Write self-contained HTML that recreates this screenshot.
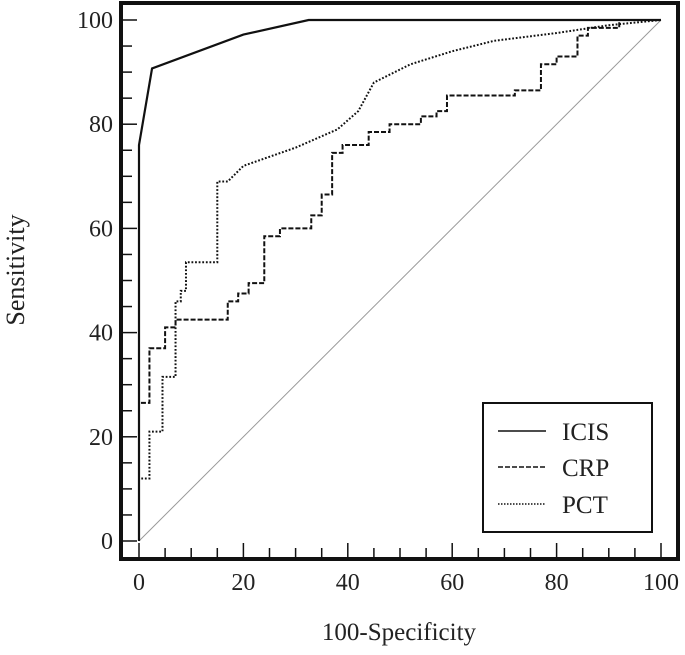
<!DOCTYPE html>
<html><head><meta charset="utf-8"><style>
body{margin:0;background:#fff;}
svg text{font-family:"Liberation Serif",serif;fill:#222;}
</style></head><body>
<svg id="chart" width="685" height="650" viewBox="0 0 685 650" xmlns="http://www.w3.org/2000/svg">
<rect x="121" y="3" width="557" height="556" fill="none" stroke="#111" stroke-width="4"/>
<g id="ticks"></g>
<g id="marks"></g>
<text x="399" y="640" font-size="25" text-anchor="middle">100-Specificity</text>
<text transform="translate(24,270) rotate(-90)" font-size="26" text-anchor="middle">Sensitivity</text>
<g>
<rect x="483" y="403" width="169" height="129" fill="#fff" stroke="#111" stroke-width="2"/>
<line x1="498" y1="431" x2="546" y2="431" stroke="#111" stroke-width="1.5"/>
<text x="562" y="440" font-size="25">ICIS</text>
<line x1="498" y1="467" x2="546" y2="467" stroke="#111" stroke-width="1.5" stroke-dasharray="5,2"/>
<text x="562" y="476" font-size="25">CRP</text>
<line x1="498" y1="504" x2="546" y2="504" stroke="#111" stroke-width="1.5" stroke-dasharray="1.5,1.5"/>
<text x="562" y="513" font-size="25">PCT</text>
</g>
</svg>
<script>
const tickValues=[0,20,40,60,80,100];
const icisX=[0,0,2.5,20,32.5,100];
const icisY=[0,76,90.7,97.2,100,100];
const crpX=[0,0,2,2,5,5,7,7,17,17,19,19,21,21,24,24,27,27,33,33,35,35,37,37,39,39,44,44,48,48,54,54,57,57,59,59,72,72,77,77,80,80,84,84,86,86,92,92,100];
const crpY=[0,26.5,26.5,37,37,41,41,42.5,42.5,46,46,47.5,47.5,49.5,49.5,58.5,58.5,60,60,62.5,62.5,66.5,66.5,74.5,74.5,76,76,78.5,78.5,80,80,81.5,81.5,82.5,82.5,85.5,85.5,86.5,86.5,91.5,91.5,93,93,97,97,98.5,98.5,100,100];
const pctX=[0,0,2,2,4.5,4.5,7,7,8,8,9,9,15,15,17,20,30,38,42,45,52,60,68,80,90,100];
const pctY=[0,12,12,21,21,31.5,31.5,46,46,48,48,53.5,53.5,69,69,72,75.5,79,82.5,88,91.5,94,96,97.5,99,100];
const X=v=>139+v*5.22, Y=v=>541-v*5.21;
const NS='http://www.w3.org/2000/svg';
const ticks=document.getElementById('ticks'), marks=document.getElementById('marks');
function mk(tag,attrs,parent){const e=document.createElementNS(NS,tag);for(const k in attrs)e.setAttribute(k,attrs[k]);parent.appendChild(e);return e;}
for(let v=0;v<=100;v+=5){
  const major=v%20===0, len=major?15:10;
  const tx=mk('line',{x1:X(v),x2:X(v),y1:558,y2:558-len,stroke:'#111','stroke-width':1.5},ticks);
  
  
  const ty=mk('line',{x1:122,x2:122+len,y1:Y(v),y2:Y(v),stroke:'#111','stroke-width':1.5},ticks);
  
  
}
tickValues.forEach(v=>{
  const a=mk('text',{x:X(v),y:590,'font-size':24,'text-anchor':'middle'},ticks);a.textContent=v;
  
  
  const b=mk('text',{x:113,y:Y(v)+8,'font-size':24,'text-anchor':'end'},ticks);b.textContent=v;
  
  
});
const diag=mk('line',{x1:X(0),y1:Y(0),x2:X(100),y2:Y(100),stroke:'#999','stroke-width':1},marks);


function series(xs,ys,dash,w,name){
  const p=mk('polyline',{points:xs.map((x,i)=>X(x)+','+Y(ys[i])).join(' '),fill:'none',stroke:'#111','stroke-width':w,'stroke-dasharray':dash},marks);
  
  
}
series(pctX,pctY,'1.8,1.8',2,'pct-curve');
series(crpX,crpY,'5,2',2,'crp-curve');
series(icisX,icisY,'none',2.2,'icis-curve');
</script>
</body></html>
